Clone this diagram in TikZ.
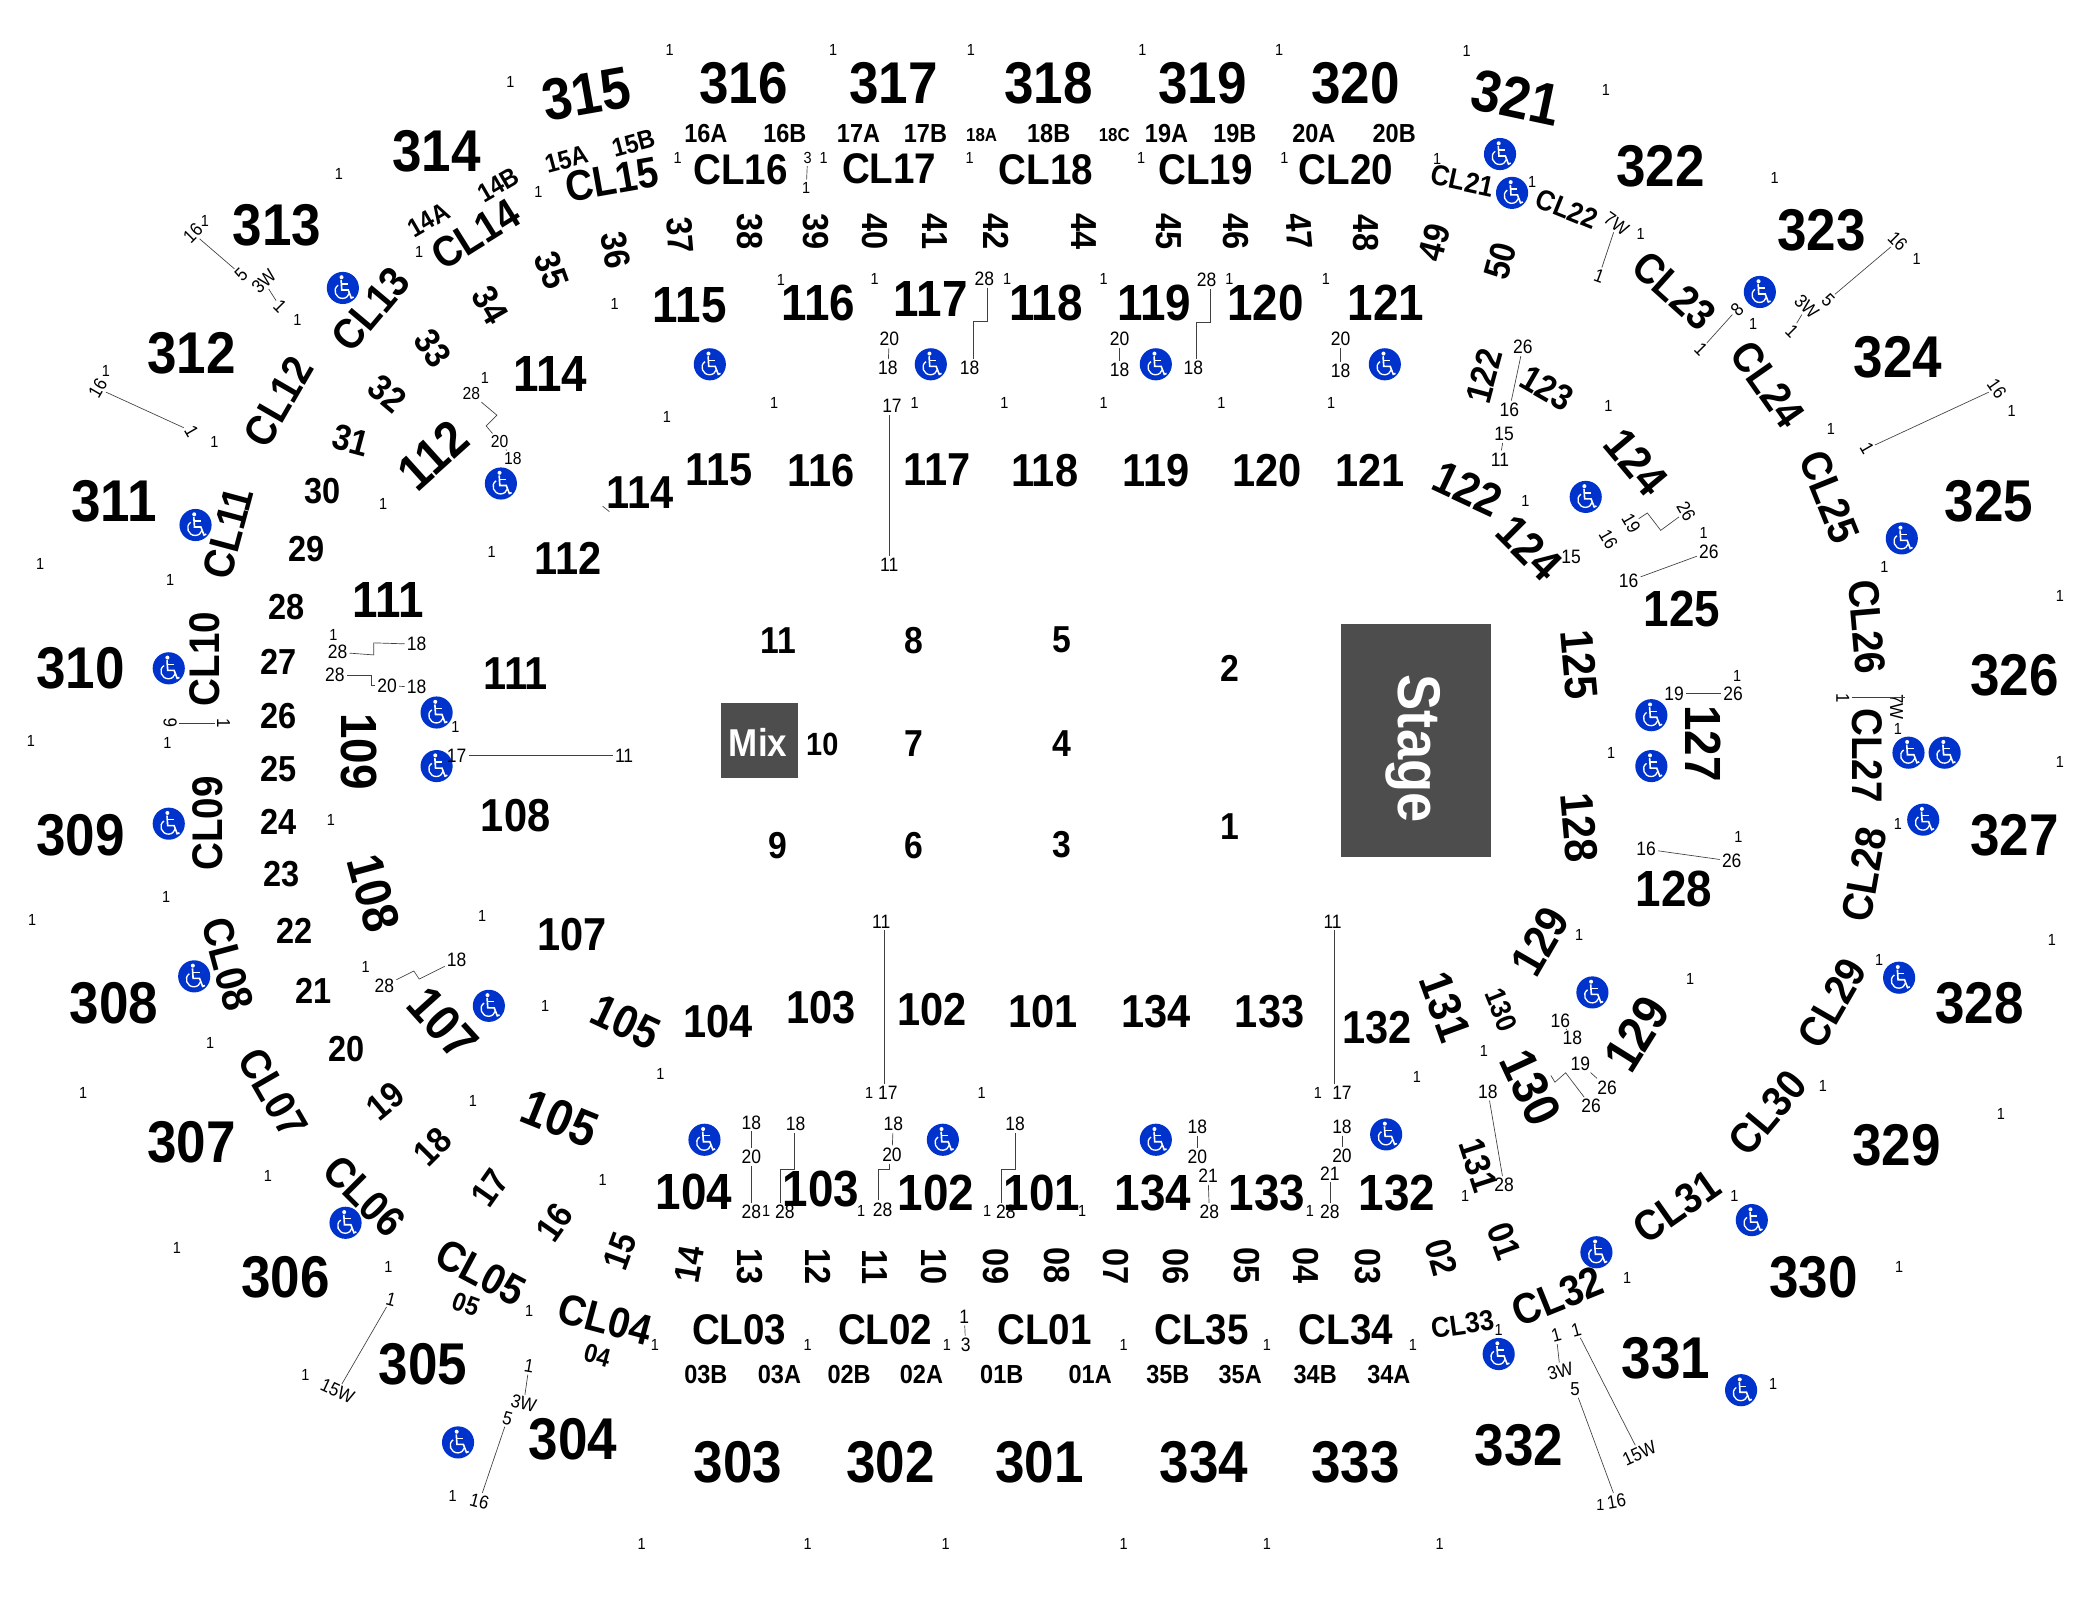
\documentclass[tikz,border=0pt]{standalone}
\usepackage{fontspec}
\setmainfont{Liberation Sans}[FakeStretch=0.9]
\newcommand{\sizefont}[1]{\fontsize{#1}{#1}\selectfont}
\definecolor{accessblue}{HTML}{0033CC}
\definecolor{stagegrey}{HTML}{4D4D4D}
\tikzset{
  uppersec/.style={inner sep=0pt, font=\bfseries\sizefont{44}},
  midsec/.style={inner sep=0pt, font=\bfseries\sizefont{38}},
  lowersec/.style={inner sep=0pt, font=\bfseries\sizefont{34.5}},
  thirdsec/.style={inner sep=0pt, font=\bfseries\sizefont{27}},
  clubsec/.style={inner sep=0pt, font=\bfseries\sizefont{32}},
  clubsmall/.style={inner sep=0pt, font=\bfseries\sizefont{21.5}},
  aislesec/.style={inner sep=0pt, font=\bfseries\sizefont{27}},
  floorsec/.style={inner sep=0pt, font=\bfseries\sizefont{28}},
  subsec/.style={inner sep=0pt, font=\bfseries\sizefont{19.5}},
  rowmark/.style={inner sep=1.5pt, font=\sizefont{14.5}},
  rotmark/.style={inner sep=1.5pt, font=\sizefont{14}},
  firstseat/.style={inner sep=1.5pt, font=\sizefont{12}},
  leader/.style={draw=black!75, line width=0.5pt},
  darkbox/.style={fill=stagegrey, draw=none},
  access/.pic={
    \fill[accessblue] (0,0) circle (12);
    \fill[white] (-1,-8) circle (1.5);
    \draw[white, line width=1.2pt] (-1.3,-6) -- (-0.8,1.5) -- (4,1.5) -- (6.3,7.5) -- (8,6.8);
    \draw[white, line width=1pt] (-1,-3) -- (4,-3);
    \draw[white, line width=1pt] (-3.6,-2) .. controls (-8,1) and (-5.5,8) .. (0,7.8) .. controls (2.5,7.7) and (4.2,6) .. (4.8,4);
  }
}
\begin{document}
\begin{tikzpicture}[x=1pt,y=-1pt]
  \useasboundingbox (0,0) rectangle (1568,1194.7);
  % stage and mix
  \node[darkbox, minimum width=112pt, minimum height=174pt, inner sep=0pt] (stagebox) at (1057,553) {};
  \node[darkbox, minimum width=58pt, minimum height=56pt, inner sep=0pt] (mixbox) at (567,553) {};
  \node[rotate=-90, white, inner sep=0pt, font=\bfseries\sizefont{45}, anchor=base] (stagetext) at (1044,559) {Stage};
  \node[white, inner sep=0pt, font=\bfseries\sizefont{29}] (mixtext) at (566,554) {Mix};
  % upper level
  \foreach \px/\py/\rr/\txt [count=\i] in {
    438/70/10/315, 555/62/0/316, 667/62/0/317, 783/62/0/318, 898/62/0/319, 1012/62/0/320,
    1132/73/-12/321, 1240/124/0/322, 1360/172/0/323, 1417/267/0/324, 1485/374/0/325,
    1504/504/0/326, 1504/624/0/327, 1478/749/0/328, 1416/855/0/329, 1354/954/0/330,
    1244/1014/0/331, 1134/1079/0/332, 1012/1092/0/333, 899/1092/0/334, 776/1092/0/301,
    665/1092/0/302, 551/1092/0/303, 428/1075/0/304, 316/1019/0/305, 213/954/0/306,
    143/853/0/307, 85/749/0/308, 60/624/0/309, 60/499/0/310, 85/374/0/311, 143/264/0/312,
    207/168/0/313, 326/113/0/314}
    \node[uppersec, rotate=\rr] (up\i) at (\px,\py) {\txt};
  % lower level, outer row
  \foreach \px/\py/\rr/\txt [count=\i] in {
    515/228/0/115, 611/226/0/116, 695/223/0/117, 781/226/0/118, 862/226/0/119, 945/226/0/120,
    1035/226/0/121, 411/279/0/114, 323/340/42/112, 290/448/0/111, 268/561/-90/109,
    279/667/-75/108, 331/764/-48/107, 418/835/-22/105, 518/890/0/104, 613/888/0/103,
    699/891/0/102, 778/891/0/101, 861/891/0/134, 946/891/0/133, 1043/891/0/132,
    1143/812/-65/130, 1222/772/58/129, 1250/664/0/128, 1272/555/-90/127, 1256/455/0/125}
    \node[midsec, rotate=\rr] (mid\i) at (\px,\py) {\txt};
  % lower level, inner row
  \foreach \px/\py/\rr/\txt [count=\i] in {
    537/351/0/115, 613/351/0/116, 700/351/0/117, 780/351/0/118, 863/351/0/119, 946/351/0/120,
    1023/351/0/121, 1096/365/-25/122, 1142/409/-45/124, 1179/496/-85/125, 1179/618/-85/128,
    1150/703/60/129, 1079/752/-70/131, 1028/767/0/132, 948/755/0/133, 863/755/0/134,
    779/755/0/101, 696/754/0/102, 613/752/0/103, 536/763/0/104, 467/763/-25/105,
    427/698/0/107, 385/609/0/108, 385/503/0/111, 424/417/0/112, 478/368/0/114, 1222/345/-50/124}
    \node[lowersec, rotate=\rr] (low\i) at (\px,\py) {\txt};
  \node[thirdsec, rotate=75] (sec122) at (1108,281) {122};
  \node[thirdsec, rotate=-30] (sec123) at (1155,290) {123};
  \node[thirdsec, rotate=-72] (sec131) at (1104,870) {131};
  \node[subsec, font=\bfseries\sizefont{21.5}, rotate=-68] (sec130) at (1121,754) {130};
  % club labels
  \foreach \px/\py/\rr/\txt [count=\i] in {
    457/134/10/CL15, 355/175/32/CL14, 277/231/50/CL13, 208/300/60/CL12, 170/398/75/CL11,
    153/492/90/CL10, 155/615/90/CL09, 170/720/-75/CL08, 204/816/-60/CL07, 272/893/-45/CL06,
    359/950/-28/CL05, 452/985/-15/CL04, 552/993/0/CL03, 661/993/0/CL02, 780/993/0/CL01,
    897/993/0/CL35, 1005/993/0/CL34, 1163/968/22/CL32, 1252/901/35/CL31, 1320/831/50/CL30,
    1368/749/60/CL29, 1392/653/80/CL28, 1394/564/-90/CL27, 1394/468/-85/CL26,
    1366/371/-68/CL25, 1320/287/-55/CL24, 1250/217/-42/CL23, 1005/127/0/CL20, 900/127/0/CL19,
    781/127/0/CL18, 664/126/0/CL17, 553/127/0/CL16}
    \node[clubsec, rotate=\rr] (club\i) at (\px,\py) {\txt};
  \node[clubsmall, rotate=8] (club33) at (1092,989) {CL33};
  \node[clubsmall, rotate=-22] (club22) at (1170,156) {CL22};
  \node[clubsmall, rotate=-12] (club21) at (1092,135) {CL21};
  % aisle numbers
  \foreach \px/\py/\rr/\txt [count=\i] in {
    463/934/70/15, 515/944/80/14, 560/946/-90/13, 611/946/-90/12, 653/946/-90/11, 697/946/-90/10,
    744/946/-90/09, 789/945/-90/08, 833/946/-90/07, 878/946/-90/06, 931/945/-90/05, 975/945/-90/04,
    1021/946/-90/03, 1076/939/-75/02, 1123/927/-70/01, 414/913/55/16, 366/887/55/17, 323/856/45/18,
    288/822/40/19, 259/783/0/20, 234/740/0/21, 220/695/0/22, 210/653/0/23, 208/614/0/24,
    208/574/0/25, 208/535/0/26, 208/494/0/27, 214/453/0/28, 229/410/0/29, 241/367/0/30,
    262/329/-15/31, 289/294/-40/32, 323/260/-55/33, 366/228/-60/34, 412/202/-70/35, 460/187/-80/36,
    508/176/-85/37, 560/173/-90/38, 609/173/-90/39, 653/173/-90/40, 698/173/-90/41, 744/173/-90/42,
    809/173/-90/44, 873/173/-90/45, 923/173/-90/46, 970/173/-85/47, 1020/174/-90/48,
    1071/181/75/49, 1120/195/75/50}
    \node[aislesec, rotate=\rr] (aisle\i) at (\px,\py) {\txt};
  % floor
  \foreach \px/\py/\txt [count=\i] in {
    581/478/11, 682/478/8, 793/478/5, 918/499/2, 682/555/7, 793/555/4, 581/631/9, 682/631/6,
    793/631/3, 918/617/1}
    \node[floorsec] (floor\i) at (\px,\py) {\txt};
  \node[floorsec, font=\bfseries\sizefont{24}] (floor10) at (614,556) {10};
  % sub sections
  \foreach \px/\py/\rr/\txt [count=\i] in {
    423/119/15/15A, 473/107/15/15B, 320/164/30/14A, 372/138/30/14B, 527/100/0/16A, 586/100/0/16B,
    641/100/0/17A, 691/100/0/17B, 783/100/0/18B, 871/100/0/19A, 922/100/0/19B, 981/100/0/20A,
    1041/100/0/20B, 527/1026/0/03B, 582/1026/0/03A, 634/1026/0/02B, 688/1026/0/02A, 748/1026/0/01B,
    814/1026/0/01A, 872/1026/0/35B, 926/1026/0/35A, 982/1026/0/34B, 1037/1026/0/34A,
    348/974/-20/05, 446/1012/-15/04}
    \node[subsec, rotate=\rr] (sub\i) at (\px,\py) {\txt};
  \node[subsec, font=\bfseries\sizefont{14}] (sub18a) at (733,101) {18A};
  \node[subsec, font=\bfseries\sizefont{14}] (sub18c) at (832,101) {18C};
  % first seat marks
  \foreach \px/\py [count=\i] in {
    500/37, 381/61, 253/130, 506/118, 402/143, 313/188, 459/227, 153/165, 222/239, 79/277, 160/330,
    362/282, 498/311, 286/376, 622/37, 725/37, 853/37, 955/37, 615/118, 724/118, 852/118, 959/118,
    583/209, 653/208, 752/208, 824/208, 918/208, 990/208, 578/301, 683/301, 750/301, 824/301,
    912/301, 994/301, 1095/38, 1199/67, 1073/119, 1144/136, 1325/133, 1225/175, 1431/193, 1309/242,
    1201/303, 1367/320, 1502/307, 1139/374, 1272/398, 1407/423, 1538/445, 1297/505, 1417/544,
    1203/562, 1538/569, 1417/615, 1298/625, 1532/702, 1403/717, 1179/698, 1262/731, 1108/785,
    1058/804, 1094/893, 1361/811, 1494/832, 1295/893, 1418/946, 1215/954, 1119/993, 1055/1004,
    1324/1033, 1075/1153, 62/816, 200/878, 132/932, 290/946, 493/802, 353/822, 450/881, 395/979,
    489/1004, 228/1027, 338/1117, 479/1153, 30/421, 127/433, 367/412, 249/474, 340/543, 23/553,
    125/555, 247/612, 124/670, 24/687, 360/684, 273/722, 407/751, 157/779, 649/816, 733/816, 984/816,
    572/904, 643/904, 737/904, 808/904, 978/904, 603/1004, 707/1004, 839/1004, 946/1004, 603/1153,
    706/1153, 839/1153, 946/1153, 1195/1124}
    \node[firstseat] (one\i) at (\px,\py) {1};
  % access marks
  \foreach \px/\py in {
    530/272, 695/272, 863/272, 1034/272, 1120/115, 1129/144, 1314/218, 1184/371, 1420/402, 1233/534,
    1233/572, 1425/562, 1452/562, 1436/612, 1189/741, 1418/730, 1308/911, 1192/935, 1119/1011,
    1300/1038, 258/913, 342/1077, 126/499, 326/532, 326/572, 126/615, 145/729, 365/751, 256/215,
    374/361, 146/392, 526/851, 704/851, 863/851, 1035/847}
    \pic at (\px,\py) {access};
  % rows, top
  \node[firstseat] (a3) at (603,118) {3};
  \node[firstseat] (a1) at (602,140) {1};
  \draw[leader] (a3) -- (a1);
  \node[rowmark] (b17) at (666,303) {17};
  \node[rowmark] (b11) at (664,422) {11};
  \draw[leader] (b17.south -| b11) -- (b11);
  \node[rowmark] (c20) at (664,253) {20};
  \node[rowmark] (c18) at (663,275) {18};
  \draw[leader] (c20) -- (c18);
  \node[rowmark] (d28) at (735,208) {28};
  \node[rowmark] (d18) at (724,275) {18};
  \draw[leader] ([xshift=2.5pt]d28.south) -- ++(0,25) -| ([xshift=3pt]d18.north);
  \node[rowmark] (e20) at (836,253) {20};
  \node[rowmark] (e18) at (836,276) {18};
  \draw[leader] (e20) -- (e18);
  \node[rowmark] (f28) at (901,209) {28};
  \node[rowmark] (f18) at (891,275) {18};
  \draw[leader] ([xshift=3pt]f28.south) -- ++(0,25) -| ([xshift=2pt]f18.north);
  \node[rowmark] (g20) at (1001,253) {20};
  \node[rowmark] (g18) at (1001,277) {18};
  \draw[leader] (g20) -- (g18);
  % rows, top left
  \node[rotmark, rotate=45] (h16) at (144,174) {16};
  \node[rotmark, rotate=45] (h5) at (180,205) {5};
  \node[rotmark, rotate=45] (h3w) at (197,210) {3W};
  \node[rotmark, rotate=-45] (h1) at (209,229) {1};
  \draw[leader] (h16) -- (h5);
  \draw[leader] (h3w) -- (h1);
  \node[rotmark, rotate=60] (i16) at (73,290) {16};
  \node[rotmark, rotate=-60] (i1) at (143,322) {1};
  \draw[leader] (i16) -- (i1);
  \node[rowmark, font=\sizefont{13}] (j28) at (352,294) {28};
  \node[rowmark, font=\sizefont{13}] (j20) at (373,330) {20};
  \node[rowmark, font=\sizefont{13}] (j18) at (383,342) {18};
  \draw[leader] (j28) -- (371,310) -- (363,318) -- (j20);
  \draw[leader] (j20) -- (j18);
  \coordinate (k1) at (450,378);
  \coordinate (k2) at (455,382);
  \draw[leader] (k1) -- (k2);
  % rows, left
  \node[rowmark] (l28) at (252,487) {28};
  \node[rowmark] (l18) at (311,481) {18};
  \draw[leader] (l28) -- (279,489) -- (279,480) -- (l18);
  \node[rowmark] (m28) at (250,504) {28};
  \node[rowmark] (m20) at (289,512) {20};
  \node[rowmark] (m18) at (311,513) {18};
  \draw[leader] (m28) -- (277,504) -- (277,512) -- (m20);
  \draw[leader] (m20) -- (m18);
  \node[rotmark, rotate=90] (n6) at (127,540) {6};
  \node[rotmark, rotate=-90] (n1) at (167,540) {1};
  \draw[leader] (n6) -- (n1);
  \node[rowmark] (o17) at (341,564) {17};
  \node[rowmark] (o11) at (466,564) {11};
  \draw[leader] (o17) -- (o11);
  \node[rowmark] (p28) at (287,736) {28};
  \node[rowmark] (p18) at (341,717) {18};
  \draw[leader] (p28) -- (309,725) -- (313,731) -- (p18);
  % rows, bottom left
  \node[rotmark, rotate=-15] (q1) at (292,970) {1};
  \node[rotmark, rotate=-25] (q15w) at (252,1039) {15W};
  \draw[leader] (q1) -- (q15w);
  \node[rotmark, rotate=-10] (r1) at (395,1020) {1};
  \node[rotmark, rotate=-15] (r3w) at (391,1048) {3W};
  \node[rotmark, rotate=-15] (r5) at (379,1059) {5};
  \node[rotmark, rotate=-15] (r16) at (358,1121) {16};
  \draw[leader] (r1) -- (r3w);
  \draw[leader] (r5) -- (r16);
  % rows, bottom
  \node[rowmark] (s18) at (561,838) {18};
  \node[rowmark] (s20) at (561,864) {20};
  \node[rowmark] (s28) at (561,905) {28};
  \draw[leader] (s18) -- (s20);
  \draw[leader] (s20) -- (s28);
  \node[rowmark] (t18) at (594,839) {18};
  \node[rowmark] (t28) at (586,905) {28};
  \draw[leader] ([xshift=-1pt]t18.south) -- ++(0,27) -| ([xshift=-3pt]t28.north);
  \node[rowmark] (u18) at (667,839) {18};
  \node[rowmark] (u20) at (666,862) {20};
  \node[rowmark] (u28) at (659,903) {28};
  \draw[leader] (u18) -- (u20);
  \draw[leader] ([xshift=-2pt]u20.south) -- ++(0,4) -| ([xshift=-3pt]u28.north);
  \node[rowmark] (v18) at (758,839) {18};
  \node[rowmark] (v28) at (751,905) {28};
  \draw[leader] (v18.south) -- ++(0,27) -| ([xshift=-3pt]v28.north);
  \node[rowmark] (w18) at (894,841) {18};
  \node[rowmark] (w20) at (894,864) {20};
  \draw[leader] (w18) -- (w20);
  \node[rowmark] (x21) at (902,878) {21};
  \node[rowmark] (x28) at (903,905) {28};
  \draw[leader] (x21) -- (x28);
  \node[rowmark] (y21) at (993,876) {21};
  \node[rowmark] (y28) at (993,905) {28};
  \draw[leader] (y21) -- (y28);
  \node[rowmark] (z18) at (1002,841) {18};
  \node[rowmark] (z20) at (1002,863) {20};
  \draw[leader] (z18) -- (z20);
  \node[rowmark] (aa11) at (658,688) {11};
  \node[rowmark] (aa17) at (663,816) {17};
  \draw[leader] ([xshift=2pt]aa11.south) -- ([xshift=2pt]aa11.south |- aa17.north);
  \node[rowmark] (ab11) at (995,688) {11};
  \node[rowmark] (ab17) at (1002,816) {17};
  \draw[leader] ([xshift=1pt]ab11.south) -- ([xshift=1pt]ab11.south |- ab17.north);
  \node[rowmark] (ac1) at (720,983) {1};
  \node[rowmark] (ac3) at (721,1004) {3};
  \draw[leader] (ac1) -- (ac3);
  % rows, top right
  \node[rotmark, rotate=-35] (ad7w) at (1207,167) {7W};
  \node[rotmark, rotate=-20] (ad1) at (1194,206) {1};
  \draw[leader] (ad7w) -- (ad1);
  \node[rotmark, rotate=45] (ae8) at (1297,231) {8};
  \node[rotmark, rotate=-45] (ae1) at (1270,261) {1};
  \draw[leader] (ae8) -- (ae1);
  \node[rotmark, rotate=-45] (af16) at (1417,180) {16};
  \node[rotmark, rotate=-45] (af5) at (1365,224) {5};
  \node[rotmark, rotate=-45] (af3w) at (1349,229) {3W};
  \node[rotmark, rotate=-45] (af1) at (1338,247) {1};
  \draw[leader] (af16) -- (af5);
  \draw[leader] (af3w) -- (af1);
  \node[rotmark, rotate=-55] (ag16) at (1491,290) {16};
  \node[rotmark, rotate=-60] (ag1) at (1394,335) {1};
  \draw[leader] (ag16) -- (ag1);
  \node[rowmark] (ah26) at (1137,259) {26};
  \node[rowmark] (ah16) at (1127,306) {16};
  \draw[leader] (ah26) -- (ah16);
  \node[rowmark] (ai15) at (1123,324) {15};
  \node[rowmark] (ai11) at (1120,343) {11};
  \draw[leader] (ai15) -- (ai11);
  % rows, right
  \node[rotmark, rotate=-60] (aj16) at (1201,403) {16};
  \node[rotmark, rotate=-60] (aj19) at (1218,391) {19};
  \node[rotmark, rotate=-60] (aj26) at (1259,382) {26};
  \draw[leader] (aj19) -- (1230,383) -- (1240,396) -- (aj26);
  \node[rowmark] (ak15) at (1173,416) {15};
  \node[rowmark] (ak26) at (1276,412) {26};
  \node[rowmark] (ak16) at (1216,434) {16};
  \draw[leader] (ak26) -- (ak16);
  \node[rowmark] (al19) at (1250,518) {19};
  \node[rowmark] (al26) at (1294,518) {26};
  \draw[leader] (al19) -- (al26);
  \node[rotmark, rotate=-90] (am1) at (1376,521) {1};
  \node[rotmark, rotate=-90] (am7w) at (1416,528) {7W};
  \draw[leader] (am1) -- (am7w.north |- am1);
  \node[rowmark] (an16) at (1229,634) {16};
  \node[rowmark] (an26) at (1293,643) {26};
  \draw[leader] (an16) -- (an26);
  % rows, bottom right
  \node[rowmark] (ao16) at (1165,762) {16};
  \node[rowmark] (ao18) at (1174,775) {18};
  \draw[leader] (ao16) -- (ao18);
  \node[rowmark] (ap19) at (1180,794) {19};
  \node[rowmark] (ap26) at (1200,812) {26};
  \draw[leader] (ap19) -- (ap26);
  \node[rowmark] (aq26) at (1188,826) {26};
  \coordinate (aq0) at (1158,803);
  \draw[leader] (aq0) -- (1161,808) -- (1169,801) -- (aq26);
  \node[rowmark] (ar18) at (1111,815) {18};
  \node[rowmark] (ar28) at (1123,885) {28};
  \draw[leader] (ar18) -- (ar28);
  \node[rotmark, rotate=15] (as1) at (1162,997) {1};
  \node[rotmark, rotate=15] (as3w) at (1165,1024) {3W};
  \node[rotmark] (as5) at (1176,1037) {5};
  \node[rotmark, rotate=10] (as16) at (1207,1121) {16};
  \draw[leader] (as1) -- (as3w);
  \draw[leader] (as5) -- (as16);
  \node[rotmark, rotate=15] (at1) at (1177,993) {1};
  \node[rotmark, rotate=25] (at15w) at (1224,1085) {15W};
  \draw[leader] (at1) -- (at15w);
\end{tikzpicture}
\end{document}
